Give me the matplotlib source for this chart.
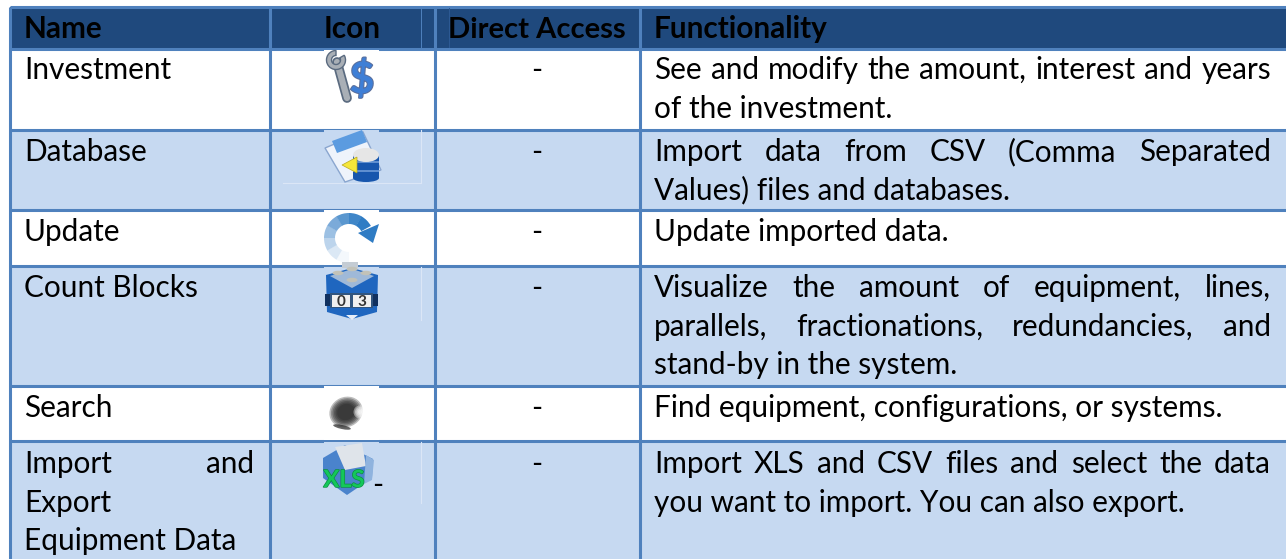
import matplotlib
matplotlib.use('Agg')
import matplotlib.pyplot as plt
import matplotlib.patheffects as pe
from matplotlib.patches import Rectangle, Polygon, Ellipse, Wedge

plt.rcParams['font.family'] = ['Lato', 'DejaVu Sans']

W, H = 1286, 559

headers = ['Name', 'Icon', 'Direct Access', 'Functionality']
names = [['Investment'], ['Database'], ['Update'], ['Count Blocks'], ['Search'],
         ['Import and', 'Export', 'Equipment Data']]
access = ['-', '-', '-', '-', '-', '-']
functionality = [
    ['See and modify the amount, interest and years', 'of the investment.'],
    ['Import data from CSV (Comma Separated', 'Values) files and databases.'],
    ['Update imported data.'],
    ['Visualize the amount of equipment, lines,', 'parallels, fractionations, redundancies, and', 'stand-by in the system.'],
    ['Find equipment, configurations, or systems.'],
    ['Import XLS and CSV files and select the data', 'you want to import. You can also export.'],
]
# lines of each cell that are stretched to the full column width: (column, row, line)
justified = {(0, 5, 0), (3, 0, 0), (3, 1, 0), (3, 3, 0), (3, 3, 1), (3, 5, 0)}

col_lines = [9.5, 270, 435, 640]
row_lines = [6.5, 48.5, 129.5, 209.5, 265.5, 385.5, 440.5]
baselines = [79, 161, 241, 297, 417, 473]

NAVY = '#1f497d'
LINE = '#4f81bd'
PALE = '#c6d9f1'
FRAME = '#dbe6f6'
FS = 21.4
LH = 38.7

fig = plt.figure(figsize=(W / 100, H / 100), dpi=100)
ax = fig.add_axes([0, 0, 1, 1])
ax.set_xlim(0, W)
ax.set_ylim(H, 0)
ax.axis('off')


def rect(x0, y0, x1, y1, color, z=1):
    ax.add_patch(Rectangle((x0, y0), x1 - x0, y1 - y0, fc=color, ec='none', zorder=z))


def poly(pts, color, z, **kw):
    ax.add_patch(Polygon(pts, fc=color, ec=kw.pop('ec', 'none'), zorder=z, **kw))


def put_line(text, x0, x1, y, just):
    # justified lines are placed word by word
    if not just:
        ax.text(x0, y, text, fontsize=FS, zorder=3)
        return
    r = fig.canvas.get_renderer()
    words = text.split(' ')
    ws = []
    for w in words:
        t = ax.text(0, 0, w, fontsize=FS)
        ws.append(t.get_window_extent(r).width)
        t.remove()
    gap = (x1 - x0 - sum(ws)) / (len(words) - 1)
    x = x0
    for w, wd in zip(words, ws):
        ax.text(x, y, w, fontsize=FS, zorder=3)
        x += wd + gap


# backgrounds
rect(col_lines[0], row_lines[0], W, row_lines[1], NAVY)
tops = row_lines[1:]
ends = row_lines[2:] + [H]
for i in range(6):
    rect(col_lines[0], tops[i], W, ends[i], PALE if i % 2 else 'white')

# grid
for x in col_lines:
    ax.plot([x, x], [row_lines[0], H], color=LINE, lw=2.2, zorder=2, solid_capstyle='butt')
for y in row_lines:
    ax.plot([col_lines[0], W], [y, y], color=LINE, lw=2.2, zorder=2, solid_capstyle='butt')
ax.plot([421, 421], [8, 47], color=LINE, lw=0.7, zorder=2)
ax.plot([449, 449], [8, 47], color='#2d5a94', lw=0.7, zorder=2)

# header
ax.text(24, 38, headers[0], fontsize=FS, fontweight='bold', zorder=3)
ax.text(352, 38, headers[1], fontsize=FS, fontweight='bold', ha='center', zorder=3)
ax.text(537, 38, headers[2], fontsize=FS - 0.4, fontweight='bold', ha='center', zorder=3)
ax.text(654, 38, headers[3], fontsize=FS, fontweight='bold', zorder=3)

# body text
for i in range(6):
    for j, line in enumerate(names[i]):
        put_line(line, 24, 254, baselines[i] + j * LH, (0, i, j) in justified)
    ax.text(537, baselines[i], access[i], fontsize=FS, ha='center', zorder=3)
    for j, line in enumerate(functionality[i]):
        put_line(line, 654, 1271, baselines[i] + j * LH, (3, i, j) in justified)
ax.text(378, 494, '-', fontsize=FS, ha='center', zorder=6)

# icon backings and the pale picture frames round them
for i, (y0, y1) in enumerate([(49.5, 103), (130, 183), (210, 265), (267, 320), (386, 440), (442, 503)]):
    rect(324, y0, 379, y1, 'white' if i % 2 == 0 else PALE, z=2.5)
    if i % 2:
        ax.plot([421, 421], [y0, y1], color=FRAME, lw=0.8, zorder=2.4)
ax.plot([283, 421], [183, 183], color=FRAME, lw=0.8, zorder=2.4)

# wrench + dollar
ax.plot([337, 347], [62, 98], color='#5b6b80', lw=7, zorder=4, solid_capstyle='round')
ax.plot([337, 347], [62, 98], color='#a9afb6', lw=4.5, zorder=4.2, solid_capstyle='round')
ax.add_patch(Wedge((336, 60), 9.5, -30, 270, width=5, fc='#a9afb6', ec='#5b6b80', lw=1, zorder=4.3))
ax.text(362, 93, '$', fontsize=31, fontweight='bold', color='#3f7fd6', ha='center', zorder=5,
        path_effects=[pe.withStroke(linewidth=1.5, foreground='#5a6f9c')])

# database
poly([[325, 148], [363, 132], [381, 170], [345, 182]], '#eef3fb', 4, ec='#8aa6cf', lw=1)
poly([[332, 141], [362, 130], [367, 142], [337, 153]], '#5b9be0', 4.1)
rect(353, 155, 379, 178, '#1756ad', z=5)
rect(353, 161, 379, 163, '#5f8fd0', z=5.1)
rect(353, 170, 379, 172, '#5f8fd0', z=5.1)
ax.add_patch(Ellipse((366, 178), 26, 8, fc='#1756ad', ec='none', zorder=5))
ax.add_patch(Ellipse((366, 155), 26, 14, fc='#e6e6e6', ec='none', zorder=6))
poly([[342, 165], [357, 157], [357, 173]], '#f5e63a', 7, ec='#b9a820', lw=0.5)

# update arrow, fading towards its tail
arc_colors = ['#f4f8fc', '#dbe8f5', '#bcd4ec', '#9cc0e3', '#7baad9', '#5a97cf', '#3f86c8', '#2f7cc4']
for k, c in enumerate(arc_colors):
    ax.add_patch(Wedge((349, 238), 25, 90 + k * 30, 90 + (k + 1) * 30 + 1, width=11, fc=c, ec='none', zorder=4))
rect(342, 262, 358, 268, '#c4ccd4', z=4)
poly([[358, 233], [379, 224], [373, 243]], '#2f7cc4', 5)

# count blocks
poly([[326, 275], [352, 268], [378, 275], [377, 312], [352, 319], [327, 312]], '#1f66bf', 4)
poly([[330, 276], [352, 269], [374, 276], [352, 288]], '#9fb9d8', 4.1)
for cx, cy in [(352, 269), (338, 273), (366, 273), (352, 280)]:
    ax.add_patch(Ellipse((cx, cy), 11, 4.5, fc='#c2c2b8', ec='none', zorder=4.2))
rect(325, 294, 330, 306, '#10305f', z=4.4)
rect(373, 294, 378, 306, '#10305f', z=4.4)
rect(330, 293, 373, 308, '#31557f', z=4.5)
rect(332, 294.5, 350, 306.5, '#f0f0f0', z=5)
rect(353, 294.5, 371, 306.5, '#f0f0f0', z=5)
ax.text(341, 305.5, '0', fontsize=11, fontweight='bold', ha='center', color='#333333', zorder=6)
ax.text(362, 305.5, '3', fontsize=11, fontweight='bold', ha='center', color='#333333', zorder=6)
poly([[346, 315], [358, 315], [352, 320]], '#e8eef8', 6)

# eye, blurred by stacking soft layers
for k in range(6):
    g = 1 - k / 5
    ax.add_patch(Ellipse((346, 412), 18 + 16 * g, 16 + 14 * g, angle=-25, fc='#222222', ec='none', alpha=0.3, zorder=4))
for k in range(4):
    ax.add_patch(Ellipse((360, 412), 4 + 3 * k, 4 + 3 * k, fc='white', ec='none', alpha=0.4, zorder=5))
ax.add_patch(Ellipse((342, 427), 18, 4, angle=12, fc='#222222', ec='none', alpha=0.7, zorder=5))

# xls folder
poly([[323, 458], [345, 445], [373, 459], [372, 478], [347, 495], [323, 478]], '#4a83cc', 4)
poly([[335, 447], [362, 443], [366, 466], [345, 470]], '#dfe4ea', 4.2)
poly([[366, 455], [374, 460], [372, 480], [364, 484]], '#8fb3de', 4.3)
ax.text(344, 487, 'XLS', fontsize=17, fontweight='bold', color='#14c75a', ha='center', zorder=5,
        path_effects=[pe.withStroke(linewidth=1, foreground='#0d8f40')])

fig.savefig('out.png', dpi=100)
